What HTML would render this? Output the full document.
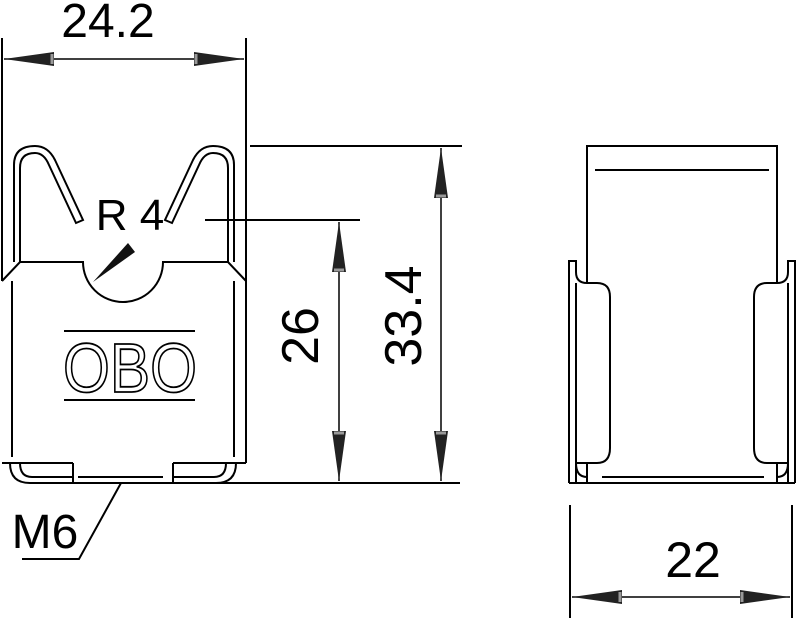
<!DOCTYPE html>
<html><head><meta charset="utf-8"><style>html,body{margin:0;padding:0;background:#fff}svg{display:block}</style></head>
<body>
<svg width="800" height="621" viewBox="0 0 800 621" xmlns="http://www.w3.org/2000/svg" font-family="Liberation Sans, sans-serif">
<defs>
<marker id="a" viewBox="0 0 50 16" refX="50" refY="8" markerWidth="50" markerHeight="16" markerUnits="userSpaceOnUse" orient="auto-start-reverse">
<path d="M0,1 L50,8 L0,15 Z" fill="#222"/><path d="M2,3 L2,13" stroke="#999" stroke-width="3"/>
</marker>
</defs>
<g stroke="#000" fill="none" stroke-width="2">
<line x1="2" y1="38" x2="2" y2="281"/>
<line x1="246" y1="38" x2="246" y2="463"/>
<line x1="4" y1="59" x2="244" y2="59" stroke-width="1.5" marker-start="url(#a)" marker-end="url(#a)"/>
<path d="M2,281 L20,262 H83 A40,40 0 0 0 163,262 H228 L246,281"/>
<line x1="12" y1="281" x2="12" y2="457"/>
<line x1="234" y1="281" x2="234" y2="457"/>
<path d="M2,463 H73 M173,463 H246"/>
<path d="M73,463 V483 M173,463 V483"/>
<path d="M73,483 H460"/>
<path d="M78,477 H163"/>
<path d="M10,463 Q10,483 30,483 H73 M20,463 Q20,477 32,477 H73"/>
<path d="M236,463 Q236,483 216,483 H173 M226,463 Q226,477 214,477 H173"/>
<path d="M14,262 V165 Q14,146 35,146 Q48,146 55,160 L83,220 L76,223 L49,165 Q44,153 35,153 Q20,153 20,168 V262"/>
<path d="M234,262 V165 Q234,146 213,146 Q200,146 193,160 L165,220 L172,223 L199,165 Q204,153 213,153 Q228,153 228,168 V262"/>
<line x1="64" y1="331" x2="195" y2="331"/>
<line x1="64" y1="400" x2="195" y2="400"/>
<line x1="205" y1="220" x2="360" y2="220"/>
<line x1="250" y1="146" x2="462" y2="146"/>
<line x1="339" y1="222" x2="339" y2="481" stroke-width="1.5" marker-start="url(#a)" marker-end="url(#a)"/>
<line x1="441" y1="148" x2="441" y2="481" stroke-width="1.5" marker-start="url(#a)" marker-end="url(#a)"/>
<path d="M121,483 L79,559 H22"/>
<path d="M587,283 V146 H777 V283"/>
<line x1="595" y1="170" x2="769" y2="170"/>
<path d="M569,483 V261 H576 V272 Q576,283 587,283 H597 Q610,283 610,297 V448 Q610,463 597,463 H576 V283"/>
<path d="M795,483 V261 H788 V272 Q788,283 777,283 H767 Q754,283 754,297 V448 Q754,463 767,463 H788 V283"/>
<line x1="576" y1="463" x2="576" y2="483"/>
<line x1="788" y1="463" x2="788" y2="483"/>
<path d="M576,463 Q576,477 587,477 M788,463 Q788,477 777,477"/>
<path d="M587,463 V483 M777,463 V483"/>
<line x1="569" y1="483" x2="795" y2="483"/>
<line x1="602" y1="477" x2="764" y2="477"/>
<line x1="570" y1="505" x2="570" y2="618"/>
<line x1="792" y1="505" x2="792" y2="618"/>
<line x1="572" y1="597" x2="790" y2="597" stroke-width="1.5" marker-start="url(#a)" marker-end="url(#a)"/>
</g>
<path d="M93,282 L128,243 L135,252 Z" fill="#111"/>
<g fill="#000" font-size="48">
<text x="108" y="37" text-anchor="middle">24.2</text>
<text x="130" y="230" text-anchor="middle" font-size="44">R 4</text>
<text x="45" y="548" text-anchor="middle" font-size="48">M6</text>
<text x="693" y="577" text-anchor="middle" font-size="50">22</text>
<text transform="translate(318,336) rotate(-90)" text-anchor="middle" font-size="52">26</text>
<text transform="translate(421,316) rotate(-90)" text-anchor="middle" font-size="52">33.4</text>
</g>
<text x="130" y="392" text-anchor="middle" font-size="70" textLength="134" lengthAdjust="spacingAndGlyphs" fill="none" stroke="#000" stroke-width="1.8">OBO</text>
</svg>
</body></html>
